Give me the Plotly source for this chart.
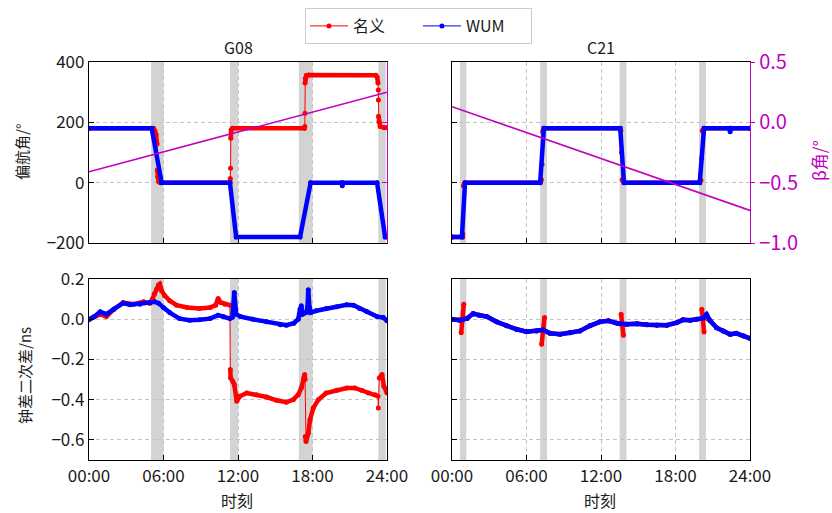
import plotly.graph_objects as go

# ---------------- data ----------------
hour_ticks = [0, 6, 12, 18, 24]
hour_labels = ["00:00", "06:00", "12:00", "18:00", "24:00"]
series_names = ["名义", "WUM"]
sat_names = ["G08", "C21"]

# shadow / noon-midnight turn windows (hours)
g08_shade = [(5.0, 6.0), (11.35, 12.0), (16.9, 18.0), (23.3, 23.9)]
c21_shade = [(0.65, 1.15), (7.1, 7.65), (13.5, 14.05), (19.9, 20.45)]

# beta angle (deg)
g08_beta_t = [0, 24]
g08_beta = [-0.41, 0.25]
c21_beta_t = [0, 24]
c21_beta = [0.13, -0.73]

# yaw angle (deg), G08
g08_nom_yaw_t = [0.0, 5.2, 5.3, 5.4, 5.48, 5.5, 5.53, 5.6, 5.75, 11.35,
                 11.38, 11.4, 11.42, 11.45, 11.55, 17.35, 17.38, 17.39, 17.4, 17.42,
                 17.5, 17.7, 23.1, 23.2, 23.28, 23.3, 23.31, 23.32, 23.35, 23.45,
                 23.8, 24.0]
g08_nom_yaw = [180, 180, 172, 160, 128, 42, 20, 4, 0, 0,
               14, 48, 147, 175, 180, 180, 186, 230, 330, 345,
               355, 357, 356, 350, 330, 307, 274, 220, 202, 186,
               182, 182]
g08_wum_yaw_t = [0.0, 5.05, 5.85, 11.35, 11.85, 17.0, 17.85, 20.35, 20.4, 20.45,
                 23.2, 23.85, 24.0]
g08_wum_yaw = [180, 180, 0, 0, -180, -180, 0, 0, -10, 0,
               0, -180, -180]

# yaw angle (deg), C21
c21_nom_yaw_t = [0.0, 0.85, 0.87, 0.92, 1.0, 1.1, 7.1, 7.2, 7.25, 7.3,
                 7.45, 13.5, 13.6, 13.65, 13.7, 13.9, 19.95, 20.05, 20.1, 20.15,
                 20.35, 24.0]
c21_nom_yaw = [-180, -180, -170, -10, -3, 0, 0, 10, 60, 170,
               180, 180, 172, 100, 10, 0, 0, 8, 80, 172,
               180, 180]
c21_wum_yaw_t = [0.0, 0.8, 1.05, 7.1, 7.4, 13.55, 13.85, 19.95, 20.3, 22.35,
                 22.4, 22.45, 24.0]
c21_wum_yaw = [-180, -180, 0, 0, 180, 180, 0, 0, 180, 180,
               169, 180, 180]

# clock second difference (ns), G08
g08_nom_clk_t = [0.0, 0.9, 1.4, 2.0, 2.75, 3.6, 4.4, 4.9, 5.1, 5.25,
                 5.45, 5.6, 5.7, 5.85, 6.1, 6.5, 7.05, 7.9, 8.9, 9.75,
                 10.2, 10.4, 10.6, 10.95, 11.35, 11.38, 11.41, 11.57, 11.7, 11.9,
                 12.15, 12.7, 13.5, 14.3, 15.1, 15.9, 16.45, 16.85, 17.1, 17.3,
                 17.37, 17.4, 17.42, 17.48, 17.66, 17.8, 18.06, 18.47, 19.1, 19.95,
                 20.75, 21.4, 22.0, 22.5, 23.05, 23.28, 23.3, 23.38, 23.6, 23.75,
                 24.0]
g08_nom_clk = [-0.003, 0.025, 0.013, 0.05, 0.083, 0.075, 0.087, 0.08, 0.1, 0.125,
               0.15, 0.17, 0.175, 0.142, 0.117, 0.092, 0.07, 0.058, 0.053, 0.058,
               0.07, 0.103, 0.083, 0.075, 0.07, -0.25, -0.292, -0.308, -0.325, -0.408,
               -0.383, -0.367, -0.375, -0.387, -0.403, -0.413, -0.4, -0.375, -0.342, -0.292,
               -0.275, -0.3, -0.583, -0.608, -0.567, -0.5, -0.442, -0.4, -0.367, -0.353,
               -0.342, -0.342, -0.355, -0.367, -0.375, -0.383, -0.442, -0.292, -0.275, -0.333,
               -0.367]
g08_wum_clk_t = [0.0, 0.4, 0.9, 1.4, 2.0, 2.75, 3.3, 4.1, 4.9, 5.3,
                 5.6, 6.0, 6.5, 7.3, 8.1, 8.9, 9.75, 10.4, 10.8, 11.35,
                 11.55, 11.7, 11.85, 12.2, 13.2, 14.3, 15.4, 15.9, 16.5, 16.85,
                 17.0, 17.1, 17.2, 17.5, 17.6, 17.66, 17.75, 17.85, 18.3, 19.1,
                 19.95, 20.75, 21.3, 21.8, 22.4, 23.2, 23.7, 24.0]
g08_wum_clk = [0.0, 0.012, 0.037, 0.025, 0.05, 0.08, 0.072, 0.075, 0.083, 0.087,
               0.08, 0.058, 0.033, 0.003, -0.005, -0.003, 0.003, 0.02, 0.013, 0.003,
               0.01, 0.133, 0.025, 0.013, 0.0, -0.013, -0.028, -0.03, -0.02, 0.0,
               0.05, 0.067, 0.025, 0.033, 0.06, 0.147, 0.06, 0.033, 0.042, 0.053,
               0.062, 0.072, 0.07, 0.053, 0.037, 0.013, 0.008, -0.008]

# clock second difference (ns), C21
c21_nom_clk_t = [0.0, 0.6, 0.72, 0.74, 0.95, 0.98, 1.2, 1.7, 2.2, 2.8,
                 3.6, 4.4, 5.2, 6.0, 6.8, 7.2, 7.22, 7.45, 7.48, 7.9,
                 8.7, 9.5, 10.3, 11.1, 11.9, 12.6, 13.3, 13.6, 13.62, 13.8,
                 13.82, 14.1, 14.9, 15.7, 16.5, 17.3, 18.1, 18.6, 19.2, 19.7,
                 20.1, 20.12, 20.3, 20.33, 20.8, 21.3, 21.85, 22.4, 22.9, 23.5,
                 24.0]
c21_nom_clk = [0.0, -0.005, -0.003, -0.067, 0.075, 0.005, 0.003, 0.028, 0.02, 0.013,
               -0.013, -0.033, -0.05, -0.062, -0.058, -0.055, -0.125, 0.008, -0.058, -0.07,
               -0.075, -0.067, -0.058, -0.033, -0.013, -0.008, -0.02, -0.025, 0.025, -0.08,
               -0.025, -0.025, -0.022, -0.028, -0.03, -0.03, -0.017, -0.003, -0.005, 0.0,
               0.003, 0.05, -0.063, 0.01, -0.008, -0.042, -0.058, -0.075, -0.07, -0.083,
               -0.095]
c21_wum_clk_t = [0.0, 0.6, 1.2, 1.7, 2.2, 2.8, 3.6, 4.4, 5.2, 6.0,
                 6.8, 7.35, 7.9, 8.7, 9.5, 10.3, 11.1, 11.9, 12.6, 13.3,
                 14.1, 14.9, 15.7, 16.5, 17.3, 18.1, 18.6, 19.2, 19.7, 20.2,
                 20.5, 20.8, 21.3, 21.85, 22.4, 22.9, 23.5, 24.0]
c21_wum_clk = [0.0, -0.005, 0.003, 0.028, 0.02, 0.013, -0.013, -0.033, -0.05, -0.062,
               -0.058, -0.053, -0.07, -0.075, -0.067, -0.058, -0.033, -0.013, -0.008, -0.02,
               -0.025, -0.022, -0.028, -0.03, -0.03, -0.017, -0.003, -0.005, 0.0, 0.005,
               0.025, -0.008, -0.042, -0.058, -0.075, -0.07, -0.083, -0.095]

# ---------------- style ----------------
RED = "#ff0000"
BLUE = "#0000ff"
MAG = "#bf00bf"
SHADE = "#d3d3d3"
GRID = "#c4c4c4"
TXT = "#1a1a1a"
FONT = "Noto Sans CJK SC"
W, H = 832, 513


def px_x(p):
    return p / W


def px_y(p):
    return 1 - p / H


def split_steep(t, v, limit):
    """Break the polyline where it jumps faster than `limit` per hour."""
    assert len(t) == len(v)
    xs, ys = [t[0]], [v[0]]
    for i in range(1, len(t)):
        dt = t[i] - t[i - 1]
        if dt <= 0 or abs(v[i] - v[i - 1]) / dt > limit:
            xs.append(None)
            ys.append(None)
        xs.append(t[i])
        ys.append(v[i])
    return xs, ys


fig = go.Figure()


def add_series(t, v, color, name, xa, ya, limit, show_legend):
    xs, ys = split_steep(t, v, limit)
    # densely sampled runs drawn as a heavy line
    fig.add_trace(go.Scatter(x=xs, y=ys, mode="lines", line=dict(color=color, width=4.5),
                             xaxis=xa, yaxis=ya, showlegend=False, hoverinfo="skip"))
    # thin connecting line with sample dots
    fig.add_trace(go.Scatter(x=t, y=v, mode="lines+markers", name=name,
                             line=dict(color=color, width=1),
                             marker=dict(color=color, size=5),
                             xaxis=xa, yaxis=ya, showlegend=show_legend,
                             legendgroup=name))


panels = [
    ("x", "y", g08_nom_yaw_t, g08_nom_yaw, g08_wum_yaw_t, g08_wum_yaw, 1000, True),
    ("x2", "y2", c21_nom_yaw_t, c21_nom_yaw, c21_wum_yaw_t, c21_wum_yaw, 1000, False),
    ("x3", "y3", g08_nom_clk_t, g08_nom_clk, g08_wum_clk_t, g08_wum_clk, 1.8, False),
    ("x4", "y4", c21_nom_clk_t, c21_nom_clk, c21_wum_clk_t, c21_wum_clk, 1.8, False),
]
for xa, ya, nt, nv, wt, wv, lim, leg in panels:
    add_series(nt, nv, RED, series_names[0], xa, ya, lim, leg)
    add_series(wt, wv, BLUE, series_names[1], xa, ya, lim, leg)

# beta angle lines on the twin axes
fig.add_trace(go.Scatter(x=g08_beta_t, y=g08_beta, mode="lines", line=dict(color=MAG, width=1.6),
                         xaxis="x", yaxis="y5", showlegend=False, hoverinfo="skip"))
fig.add_trace(go.Scatter(x=c21_beta_t, y=c21_beta, mode="lines", line=dict(color=MAG, width=1.6),
                         xaxis="x2", yaxis="y6", showlegend=False, hoverinfo="skip"))

# ---------------- axes ----------------
dom_left = [px_x(89), px_x(387)]
dom_right = [px_x(452), px_x(750)]
dom_top = [px_y(243), px_y(62)]
dom_bot = [px_y(460), px_y(279)]

tick_font = dict(family=FONT, size=17, color=TXT)
common_x = dict(range=[0, 24], tickvals=hour_ticks, ticktext=hour_labels, ticks="inside",
                ticklen=5, tickwidth=1.2, tickcolor="black", showline=True, linecolor="black",
                linewidth=1.3, mirror=True, showgrid=True, gridcolor=GRID, gridwidth=0.8,
                griddash="4px,3px", zeroline=False, tickfont=tick_font, automargin=False)
common_y = dict(ticks="inside", ticklen=5, tickwidth=1.2, tickcolor="black", showline=True,
                linecolor="black", linewidth=1.3, showgrid=True, gridcolor=GRID, gridwidth=0.8,
                griddash="4px,3px", zeroline=False, tickfont=tick_font, automargin=False)

fig.update_layout(
    xaxis=dict(domain=dom_left, anchor="y", showticklabels=False, **common_x),
    xaxis2=dict(domain=dom_right, anchor="y2", showticklabels=False, **common_x),
    xaxis3=dict(domain=dom_left, anchor="y3", showticklabels=True, **common_x),
    xaxis4=dict(domain=dom_right, anchor="y4", showticklabels=True, **common_x),
    yaxis=dict(domain=dom_top, anchor="x", range=[-200, 400], tickvals=[-200, 0, 200, 400],
               mirror=False, **common_y),
    yaxis2=dict(domain=dom_top, anchor="x2", range=[-200, 400], tickvals=[-200, 0, 200, 400],
                showticklabels=False, mirror=False, **common_y),
    yaxis3=dict(domain=dom_bot, anchor="x3", range=[-0.7, 0.2],
                tickvals=[-0.6, -0.4, -0.2, 0.0, 0.2], tickformat=".1f", mirror=True, **common_y),
    yaxis4=dict(domain=dom_bot, anchor="x4", range=[-0.7, 0.2],
                tickvals=[-0.6, -0.4, -0.2, 0.0, 0.2], showticklabels=False, mirror=True, **common_y),
    yaxis5=dict(overlaying="y", anchor="x", side="right", range=[-1.0, 0.5],
                tickvals=[-1.0, -0.5, 0.0, 0.5], showticklabels=False, ticks="inside", ticklen=5,
                tickcolor=MAG, tickwidth=1.2, showline=True, linecolor=MAG, linewidth=1.3,
                showgrid=False, zeroline=False, automargin=False),
    yaxis6=dict(overlaying="y2", anchor="x2", side="right", range=[-1.0, 0.5],
                tickvals=[-1.0, -0.5, 0.0, 0.5], tickformat=".1f", ticks="outside", ticklen=4,
                tickcolor=MAG, tickwidth=1.2, showline=True, linecolor=MAG, linewidth=1.3,
                showgrid=False, zeroline=False, automargin=False,
                tickfont=dict(family=FONT, size=20, color=MAG)),
)

# shaded windows in both rows
shapes = []
for shade, pairs in ((g08_shade, (("x", "y domain"), ("x3", "y3 domain"))),
                     (c21_shade, (("x2", "y2 domain"), ("x4", "y4 domain")))):
    for xref, yref in pairs:
        for a, b in shade:
            shapes.append(dict(type="rect", xref=xref, yref=yref, x0=a, x1=b, y0=0, y1=1,
                               fillcolor=SHADE, line=dict(width=0), layer="below"))

# panel titles and axis labels
label_font = dict(family=FONT, size=16, color=TXT)
annotations = [
    dict(text=sat_names[0], x=px_x(238), y=px_y(61), xref="paper", yref="paper",
         xanchor="center", yanchor="bottom", showarrow=False, font=label_font),
    dict(text=sat_names[1], x=px_x(601), y=px_y(61), xref="paper", yref="paper",
         xanchor="center", yanchor="bottom", showarrow=False, font=label_font),
    dict(text="偏航角/°", x=px_x(21), y=px_y(152), xref="paper", yref="paper",
         xanchor="center", yanchor="middle",
         textangle=-90, showarrow=False, font=dict(family=FONT, size=15, color=TXT)),
    dict(text="钟差二次差/ns", x=px_x(24), y=px_y(376), xref="paper", yref="paper",
         xanchor="center", yanchor="middle",
         textangle=-90, showarrow=False, font=dict(family=FONT, size=15, color=TXT)),
    dict(text="时刻", x=px_x(237), y=px_y(500), xref="paper", yref="paper",
         xanchor="center", yanchor="middle", showarrow=False, font=label_font),
    dict(text="时刻", x=px_x(600), y=px_y(500), xref="paper", yref="paper",
         xanchor="center", yanchor="middle", showarrow=False, font=label_font),
    dict(text="β角/°", x=px_x(818), y=px_y(161), xref="paper", yref="paper",
         xanchor="center", yanchor="middle",
         textangle=-90, showarrow=False, font=dict(family=FONT, size=17, color=MAG)),
]

fig.update_layout(
    width=W, height=H,
    margin=dict(l=0, r=0, t=0, b=0, autoexpand=False),
    paper_bgcolor="white", plot_bgcolor="white",
    font=dict(family=FONT, size=16, color=TXT),
    shapes=shapes,
    annotations=annotations,
    showlegend=True,
    legend=dict(orientation="h", x=0.503, xanchor="center", y=px_y(8), yanchor="top",
                bordercolor="#cccccc", borderwidth=1, bgcolor="white",
                font=dict(family=FONT, size=16, color=TXT),
                itemwidth=38, entrywidth=60, entrywidthmode="pixels"),
)

fig.write_html("out.html")
